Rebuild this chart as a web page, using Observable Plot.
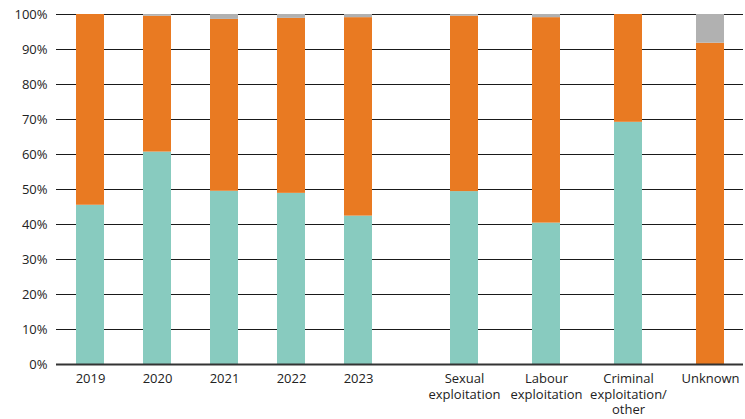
<!DOCTYPE html>
<html>
<head>
<meta charset="utf-8">
<script src="https://cdn.jsdelivr.net/npm/d3@7"></script>
<script src="https://cdn.jsdelivr.net/npm/@observablehq/plot@0.6"></script>
<style>
  html, body { margin: 0; padding: 0; background: #fff; overflow: hidden; }
  #wrap { display: flex; flex-direction: row; width: 745px; height: 419px; }
  #wrap svg { display: block; }
</style>
</head>
<body>
<div id="wrap"></div>
<script>
// Categories
const years = ["2019", "2020", "2021", "2022", "2023"];
const types = ["Sexual\nexploitation", "Labour\nexploitation", "Criminal\nexploitation/\nother", "Unknown"];
const series = ["Female", "Male", "Unknown"];
const colors = ["#88cbbf", "#e97a22", "#b1b1b1"];

// Series values (percent) by year
const yearsFemale  = [45.5, 60.7, 49.5, 48.9, 42.4];
const yearsMale    = [54.5, 38.8, 49.1, 50.0, 56.7];
const yearsUnknown = [0.0, 0.5, 1.4, 1.1, 0.9];

// Series values (percent) by type of exploitation
const typesFemale  = [49.4, 40.4, 69.2, 0.0];
const typesMale    = [50.1, 58.7, 30.8, 91.8];
const typesUnknown = [0.5, 0.9, 0.0, 8.2];

// Y tick values
const yTicks = [0, 10, 20, 30, 40, 50, 60, 70, 80, 90, 100];

function rows(cats, a, b, c) {
  const out = [];
  cats.forEach((cat, i) => {
    out.push({cat, series: series[0], value: a[i]});
    out.push({cat, series: series[1], value: b[i]});
    out.push({cat, series: series[2], value: c[i]});
  });
  return out;
}

const FONT = "'Open Sans', 'Noto Sans', sans-serif";

function chart({cats, data, width, marginLeft, marginRight, xRange, padIn, showY}) {
  const marks = [
    Plot.gridY(yTicks, {stroke: "#1a1a1a", strokeOpacity: 1, strokeWidth: 1}),
    Plot.barY(data, {x: "cat", y: "value", fill: "series"}),
    Plot.ruleY([0], {stroke: "#333", strokeWidth: 2}),
    Plot.axisX({tickSize: 0, tickPadding: 8, fontSize: 13, lineHeight: 1.18, fill: "#222"})
  ];
  if (showY) {
    marks.push(Plot.axisY(yTicks, {tickSize: 0, tickPadding: 9, fontSize: 13, fill: "#222",
      tickFormat: d => d + "%"}));
  }
  return Plot.plot({
    width,
    height: 419,
    marginTop: 14,
    marginBottom: 55,
    marginLeft,
    marginRight,
    style: {fontFamily: FONT, fontSize: "13px", color: "#222", background: "#fff"},
    x: {domain: cats, range: xRange, paddingInner: padIn, paddingOuter: padIn / 2, label: null},
    y: showY ? {domain: [0, 100], label: null} : {domain: [0, 100], label: null, axis: null},
    color: {domain: series, range: colors},
    marks
  });
}

const left = chart({
  cats: years,
  data: rows(years, yearsFemale, yearsMale, yearsUnknown),
  width: 410, marginLeft: 56, marginRight: 0,
  xRange: [56, 392.25], padIn: 0.584, showY: true
});
const right = chart({
  cats: types,
  data: rows(types, typesFemale, typesMale, typesUnknown),
  width: 335, marginLeft: 0, marginRight: 2,
  xRange: [13, 341], padIn: 0.66, showY: false
});
document.getElementById("wrap").append(left, right);
</script>
</body>
</html>
